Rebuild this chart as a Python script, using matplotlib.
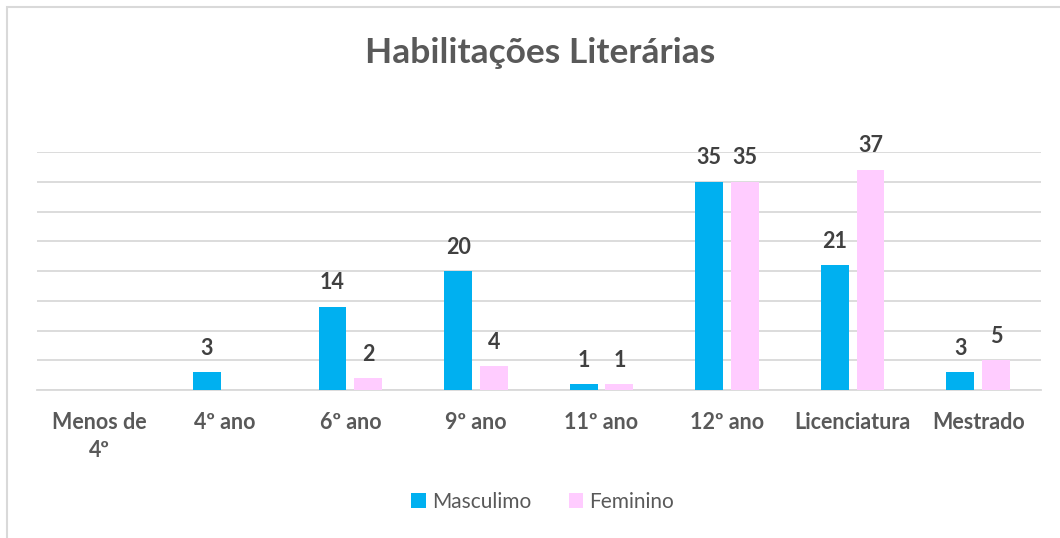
import matplotlib.pyplot as plt
import numpy as np
from matplotlib.patches import Rectangle

categories = ['Menos de\n4º', '4º ano', '6º ano', '9º ano', '11º ano', '12º ano', 'Licenciatura', 'Mestrado']
masculino = [0, 3, 14, 20, 1, 35, 21, 3]
feminino = [0, 0, 2, 4, 1, 35, 37, 5]

blue = '#00B0F0'
pink = '#FFCCFF'
text_grey = '#595959'
label_grey = '#404040'

plt.rcParams['font.family'] = ['Lato', 'DejaVu Sans']

fig = plt.figure(figsize=(10.6, 5.38), dpi=100)
ax = fig.add_axes([36.5 / 1060, 1 - 390 / 538, (1041 - 36.5) / 1060, (390 - 152) / 538])

x = np.arange(len(categories))
w = 0.222
gap = 0.063
b1 = ax.bar(x - (w + gap) / 2, masculino, w, color=blue, label='Masculimo', zorder=3)
b2 = ax.bar(x + (w + gap) / 2, feminino, w, color=pink, label='Feminino', zorder=3)

# value labels, skip the empty ones
for bars, vals in [(b1, masculino), (b2, feminino)]:
    for rect, v in zip(bars, vals):
        if v == 0:
            continue
        ax.annotate(str(v), (rect.get_x() + rect.get_width() / 2, v),
                    xytext=(0, 12.5), textcoords='offset points',
                    ha='center', va='baseline', fontsize=15.5, fontweight='bold',
                    color=label_grey)

ax.set_xlim(-0.5, len(categories) - 0.5)
ax.set_ylim(0, 40)
ax.set_yticks(np.arange(0, 41, 5))
ax.yaxis.grid(True, color='#D9D9D9', linewidth=1.3)
ax.set_axisbelow(True)
ax.tick_params(axis='y', left=False, labelleft=False)
ax.tick_params(axis='x', length=0, pad=16)
ax.set_xticks(x)
ax.set_xticklabels(categories, fontsize=15.5, fontweight='bold', color=text_grey,
                   linespacing=1.4)
for s in ['top', 'right', 'left']:
    ax.spines[s].set_visible(False)
ax.spines['bottom'].set_color('#D9D9D9')
ax.spines['bottom'].set_linewidth(1.3)

fig.text(0.51, 1 - 53 / 538, 'Habilitações Literárias', ha='center', va='center',
         fontsize=25.5, fontweight='bold', color=text_grey)

leg = fig.legend(loc='center', bbox_to_anchor=(0.512, 1 - 502 / 538), ncol=2,
                 frameon=False, fontsize=15, handlelength=0.7, handleheight=0.7,
                 handletextpad=0.3, columnspacing=1.8)
for t in leg.get_texts():
    t.set_color(text_grey)

# chart frame (only left and top edges show in the crop)
fig.patches.append(Rectangle((7 / 1060, -0.1), 1.2, 1 - 7 / 538 + 0.1,
                             transform=fig.transFigure, fill=False,
                             edgecolor='#D9D9D9', linewidth=1.5))

fig.savefig('out.png', dpi=100)
